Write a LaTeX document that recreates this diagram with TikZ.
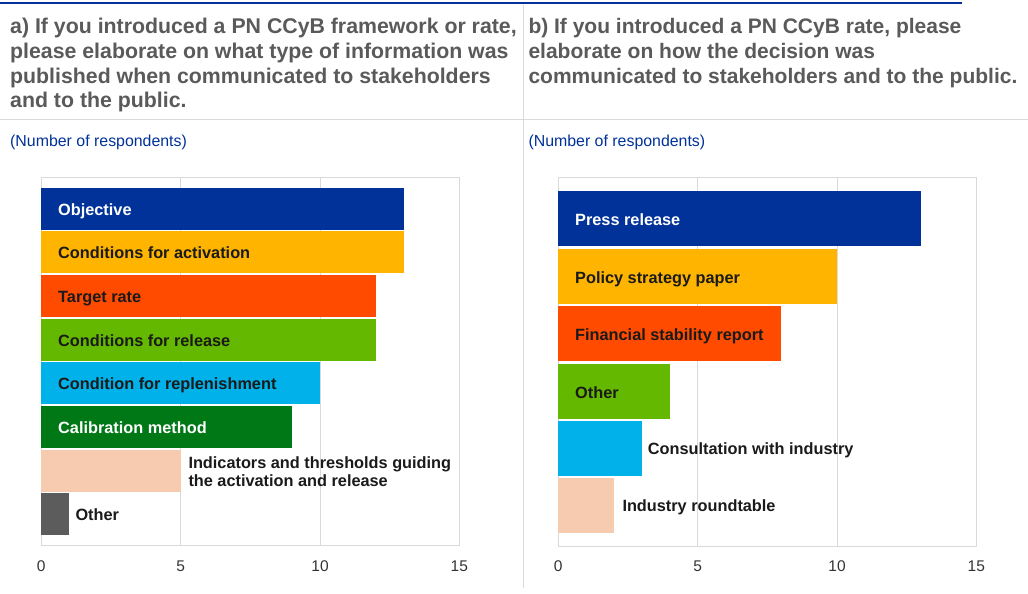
\documentclass[tikz,border=0pt]{standalone}
\usepackage{fontspec}
\setmainfont{Liberation Sans}
\definecolor{hdr}{HTML}{5A5A5A}
\definecolor{ecbblue}{HTML}{003299}
\definecolor{cyel}{HTML}{FFB400}
\definecolor{corg}{HTML}{FF4B00}
\definecolor{cgrn}{HTML}{65B800}
\definecolor{clbl}{HTML}{00B1EA}
\definecolor{cdgr}{HTML}{007816}
\definecolor{cpch}{HTML}{F7CBB0}
\definecolor{cgry}{HTML}{5C5C5C}
\definecolor{gridc}{HTML}{D9D9D9}
\definecolor{labc}{HTML}{1A1A1A}
\definecolor{tickc}{HTML}{333333}
\tikzset{
  hdrtxt/.style={anchor=base west, inner sep=0pt, text=hdr, font=\fontsize{21.3}{25}\selectfont\bfseries},
  hdrtxtb/.style={hdrtxt, font=\fontsize{21}{25}\selectfont\bfseries},
  subtxt/.style={anchor=base west, inner sep=0pt, text=ecbblue, font=\fontsize{15.9}{19}\selectfont},
  barlab/.style={anchor=base west, inner sep=0pt, text=labc, font=\fontsize{16.3}{17.7}\selectfont\bfseries},
  barlabw/.style={barlab, text=white},
  ticklab/.style={anchor=base, inner sep=0pt, text=tickc, font=\fontsize{15.5}{18}\selectfont},
  sepline/.style={draw=gridc, line width=1.5pt},
  gridline/.style={draw=gridc, line width=1pt}
}
\begin{document}
\begin{tikzpicture}[x=1pt,y=-1pt]
\useasboundingbox (0,0) rectangle (1028,594);
\fill[white] (0,0) rectangle (1028,594);
% header rules
\draw[ecbblue, line width=2pt] (0,3.5) -- (962,3.5);
\draw[sepline] (523.3,5) -- (523.3,588);
\draw[sepline] (0,119.5) -- (1028,119.5);
% headers
\node[hdrtxt] (ha1) at (10,33.3) {a) If you introduced a PN CCyB framework or rate,};
\node[hdrtxt] (ha2) at (10,58.2) {please elaborate on what type of information was};
\node[hdrtxt] (ha3) at (10,83) {published when communicated to stakeholders};
\node[hdrtxt] (ha4) at (10,107.8) {and to the public.};
\node[hdrtxtb] (hb1) at (528.3,33.3) {b) If you introduced a PN CCyB rate, please};
\node[hdrtxtb] (hb2) at (528.3,58.2) {elaborate on how the decision was};
\node[hdrtxtb] (hb3) at (528.3,83) {communicated to stakeholders and to the public.};
\node[subtxt] (sa) at (10,146.7) {(Number of respondents)};
\node[subtxt] (sb) at (528.3,146.7) {(Number of respondents)};
% ---------- left chart ----------
\draw[gridline] (41.3,177.3) rectangle (459.3,545.7);
\foreach \t in {5,10} \draw[gridline] (41.3+27.87*\t,177.3) -- (41.3+27.87*\t,545.7);
\foreach \v/\c/\i in {13/ecbblue/0, 13/cyel/1, 12/corg/2, 12/cgrn/3, 10/clbl/4, 9/cdgr/5, 5/cpch/6, 1/cgry/7}
  \fill[\c] (41.3,187.5+43.7*\i) rectangle ++(27.87*\v,42);
\node[barlabw] (l1) at (58,187.5+21+6.5) {Objective};
\node[barlab]  (l2) at (58,187.5+43.7+21+6.5) {Conditions for activation};
\node[barlab]  (l3) at (58,187.5+87.4+21+6.5) {Target rate};
\node[barlab]  (l4) at (58,187.5+131.1+21+6.5) {Conditions for release};
\node[barlab]  (l5) at (58,187.5+174.8+21+6.5) {Condition for replenishment};
\node[barlabw] (l6) at (58,187.5+218.5+21+6.5) {Calibration method};
\node[barlab]  (l7a) at (188.3,468.3) {Indicators and thresholds guiding};
\node[barlab]  (l7b) at (188.3,486) {the activation and release};
\node[barlab]  (l8) at (75.3,520.7) {Other};
\foreach \t in {0,5,10,15} \node[ticklab] (ta\t) at (41.3+27.87*\t,571) {\t};
% ---------- right chart ----------
\draw[gridline] (558.3,177.7) rectangle (976.3,546.7);
\foreach \t in {5,10} \draw[gridline] (558.3+27.87*\t,177.7) -- (558.3+27.87*\t,546.7);
\foreach \v/\c/\i in {13/ecbblue/0, 10/cyel/1, 8/corg/2, 4/cgrn/3, 3/clbl/4, 2/cpch/5}
  \fill[\c] (558.3,191.3+57.4*\i) rectangle ++(27.87*\v,55);
\node[barlabw] (r1) at (575,191.3+27.5+7) {Press release};
\node[barlab]  (r2) at (575,191.3+57.4+27.5+7) {Policy strategy paper};
\node[barlab]  (r3) at (575,191.3+114.8+27.5+7) {Financial stability report};
\node[barlab]  (r4) at (575,191.3+172.2+27.5+7) {Other};
\node[barlab]  (r5) at (647.7,454) {Consultation with industry};
\node[barlab]  (r6) at (622.3,511.7) {Industry roundtable};
\foreach \t in {0,5,10,15} \node[ticklab] (tb\t) at (558.3+27.87*\t,571) {\t};
\end{tikzpicture}
\end{document}
